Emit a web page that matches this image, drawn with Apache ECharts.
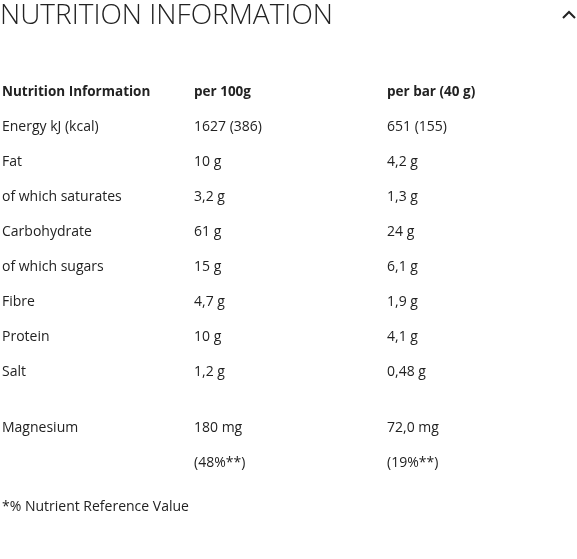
<!DOCTYPE html>
<html>
<head>
<meta charset="utf-8">
<script src="https://cdn.jsdelivr.net/npm/echarts@6/dist/echarts.min.js"></script>
<style>html,body{margin:0;padding:0;background:#fff}#c{width:577px;height:559px}</style>
</head>
<body>
<div id="c"></div>
<script>
// table contents
const title = 'NUTRITION INFORMATION';
const headers = ['Nutrition Information', 'per 100g', 'per bar (40 g)'];
const nutrients = ['Energy kJ (kcal)', 'Fat', 'of which saturates', 'Carbohydrate', 'of which sugars', 'Fibre', 'Protein', 'Salt', 'Magnesium', ''];
const per100g = ['1627 (386)', '10 g', '3,2 g', '61 g', '15 g', '4,7 g', '10 g', '1,2 g', '180 mg', '(48%**)'];
const perBar = ['651 (155)', '4,2 g', '1,3 g', '24 g', '6,1 g', '1,9 g', '4,1 g', '0,48 g', '72,0 mg', '(19%**)'];
const footnote = '*% Nutrient Reference Value';

const colX = [2, 194, 387];
const rowY = [127, 162, 197, 232, 267, 302, 337, 372, 428, 463];
const font = '"Open Sans", sans-serif';

const chart = echarts.init(document.getElementById('c'));
const elements = [];
function txt(x, y, s, size, weight, color) {
    elements.push({
        type: 'text', x: x, y: y,
        style: { text: s, fontSize: size, fontWeight: weight, fill: color, fontFamily: font, textVerticalAlign: 'middle' }
    });
}
txt(0, 16, title, 28, 300, '#222');
elements.push({
    type: 'polyline',
    shape: { points: [[563, 18], [569, 12], [575, 18]] },
    style: { stroke: '#222', lineWidth: 2, fill: null }
});
headers.forEach((h, i) => txt(colX[i], 92, h, 13.5, 'bold', '#222'));
[nutrients, per100g, perBar].forEach((col, ci) => {
    col.forEach((s, ri) => { if (s) txt(colX[ci], rowY[ri], s, 14, 'normal', '#222'); });
});
txt(2, 507, footnote, 14, 'normal', '#222');

chart.setOption({ animation: false, graphic: { elements: elements } });
</script>
</body>
</html>
